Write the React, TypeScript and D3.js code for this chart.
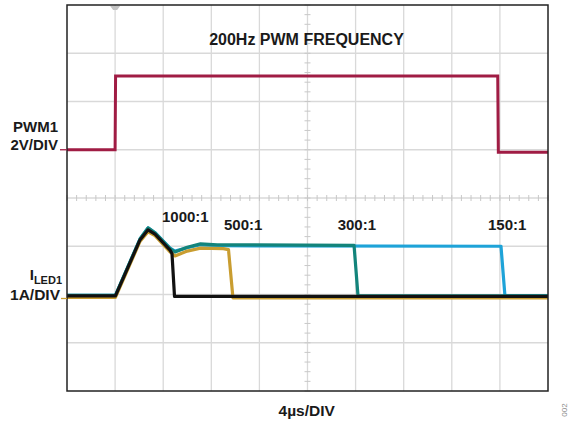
import * as d3 from "d3";
import { useEffect } from "react";

// time axis: 10 div x 4us, vertical: 8 div
const timeDomain = [0, 40];
const divDomain = [-4, 4];

// PWM1 channel (2V/DIV, ground marker at +1 div)
const pwmOffsetDiv = 1;
const pwmVoltsPerDiv = 2;
const pwmTime = [0, 4.0, 4.04, 35.82, 35.87, 40];
const pwmVolts = [0, 0, 3.06, 3.06, -0.1, -0.1];

// ILED1 channel (1A/DIV, ground marker at -2 div)
const ledOffsetDiv = -2;
const ledAmpsPerDiv = 1;

const blueTime = [0, 4.03, 6.07, 6.74, 7.32, 8.57, 8.98, 10.0, 11.1, 12.5, 36.09, 36.42, 40];
const blueAmps = [-0.02, -0.02, 1.15, 1.38, 1.28, 0.96, 0.9, 0.97, 1.03, 1.01, 1.0, -0.03, -0.03];

const tealTime = [0, 4.03, 6.07, 6.74, 7.32, 8.57, 8.98, 10.0, 11.1, 12.5, 23.87, 24.2, 40];
const tealAmps = [-0.02, -0.02, 1.15, 1.38, 1.28, 0.95, 0.88, 0.98, 1.05, 1.03, 1.02, -0.03, -0.03];

const goldTime = [0, 4.03, 6.07, 6.74, 7.32, 8.57, 8.98, 10.0, 11.1, 13.0, 13.43, 13.8, 40];
const goldAmps = [-0.06, -0.06, 1.1, 1.3, 1.22, 0.88, 0.8, 0.9, 0.96, 0.95, 0.93, -0.07, -0.07];

const blackTime = [0, 4.03, 6.07, 6.74, 7.32, 8.57, 8.73, 8.94, 40];
const blackAmps = [-0.03, -0.03, 1.13, 1.34, 1.25, 0.92, 0.85, -0.04, -0.04];

const ratioLabels = ["1000:1", "500:1", "300:1", "150:1"];
const ratioTimes = [7.9, 13.06, 22.51, 35.01];
const ratioLevels = [1.5, 1.34, 1.34, 1.34];

const font = "'Liberation Sans', Arial, sans-serif";

const zip = (t: number[], v: number[]) => t.map((d, i) => [d, v[i]] as [number, number]);

export default function App() {
  useEffect(() => {
    document.body.style.margin = "0";
  }, []);

  const W = 569;
  const H = 421;
  const x = d3.scaleLinear().domain(timeDomain).range([67, 548]);
  const y = d3.scaleLinear().domain(divDomain).range([391, 5]);

  const pwmLine = d3
    .line<[number, number]>()
    .x((d) => x(d[0]))
    .y((d) => y(d[1] / pwmVoltsPerDiv + pwmOffsetDiv));
  const ledLine = d3
    .line<[number, number]>()
    .x((d) => x(d[0]))
    .y((d) => y(d[1] / ledAmpsPerDiv + ledOffsetDiv));

  const vGrid = d3.range(4, 40, 4);
  const hGrid = d3.range(-3, 4, 1);
  const xMinor = d3.range(0, 40.01, 0.8);
  const yMinor = d3.range(-4, 4.01, 0.2);

  const traces = [
    { t: blueTime, a: blueAmps, c: "#1ea3d8" },
    { t: tealTime, a: tealAmps, c: "#13847b" },
    { t: goldTime, a: goldAmps, c: "#c99d30" },
    { t: blackTime, a: blackAmps, c: "#111111" },
  ];

  return (
    <svg width={W} height={H} style={{ position: "absolute", left: 0, top: 0, background: "#fff" }}>
      <rect width={W} height={H} fill="#fff" />
      {/* grid */}
      <g stroke="#d9d9d9" strokeWidth={1.3}>
        {vGrid.map((t) => (
          <line key={"v" + t} x1={x(t)} x2={x(t)} y1={y(4)} y2={y(-4)} />
        ))}
        {hGrid.map((d) => (
          <line key={"h" + d} x1={x(0)} x2={x(40)} y1={y(d)} y2={y(d)} />
        ))}
      </g>
      <g stroke="#c8c8c8" strokeWidth={1}>
        {xMinor.map((t) => (
          <line key={"xm" + t} x1={x(t)} x2={x(t)} y1={y(0) - 3} y2={y(0) + 3} />
        ))}
        {yMinor.map((d) => (
          <line key={"ym" + d} x1={x(20) - 3} x2={x(20) + 3} y1={y(d)} y2={y(d)} />
        ))}
      </g>
      {/* trigger marker */}
      <path d={`M${x(4) - 5},${y(4) + 1} L${x(4) + 5},${y(4) + 1} L${x(4) + 2},${y(4) + 5} L${x(4) - 2},${y(4) + 5} Z`} fill="#c4c4c4" />

      {/* traces */}
      <path d={pwmLine(zip(pwmTime, pwmVolts)) || ""} fill="none" stroke="#a01c44" strokeWidth={3} />
      {traces.map((tr, i) => (
        <path key={i} d={ledLine(zip(tr.t, tr.a)) || ""} fill="none" stroke={tr.c} strokeWidth={3.2} strokeLinejoin="round" />
      ))}

      {/* frame */}
      <rect x={x(0)} y={y(4)} width={x(40) - x(0)} height={y(-4) - y(4)} fill="none" stroke="#222" strokeWidth={1.5} />

      {/* channel markers */}
      <line x1={60} x2={x(0)} y1={y(pwmOffsetDiv)} y2={y(pwmOffsetDiv)} stroke="#a01c44" strokeWidth={1.3} />
      <line x1={61} x2={x(0)} y1={y(ledOffsetDiv) + 4} y2={y(ledOffsetDiv) + 4} stroke="#c99d30" strokeWidth={1.3} />

      <g fontFamily={font} fontWeight="bold" fill="#1a1a1a">
        <text x={306.5} y={45} fontSize={16} textAnchor="middle">200Hz PWM FREQUENCY</text>
        <text x={58} y={132} fontSize={15} textAnchor="end">PWM1</text>
        <text x={58} y={150} fontSize={15} textAnchor="end">2V/DIV</text>
        <text x={62} y={280} fontSize={15} textAnchor="end">
          I<tspan fontSize={11} dy={4}>LED1</tspan>
        </text>
        <text x={60} y={299.5} fontSize={15.5} textAnchor="end">1A/DIV</text>
        {ratioLabels.map((l, i) => (
          <text key={l} x={x(ratioTimes[i])} y={y(ratioLevels[i] + ledOffsetDiv)} fontSize={15}>{l}</text>
        ))}
        <text x={306.7} y={416} fontSize={15.5} textAnchor="middle">4µs/DIV</text>
      </g>
      <text x={567} y={410} fontSize={8} fill="#8a8a8a" fontFamily={font} textAnchor="middle" transform="rotate(-90 567 410)">002</text>
    </svg>
  );
}
